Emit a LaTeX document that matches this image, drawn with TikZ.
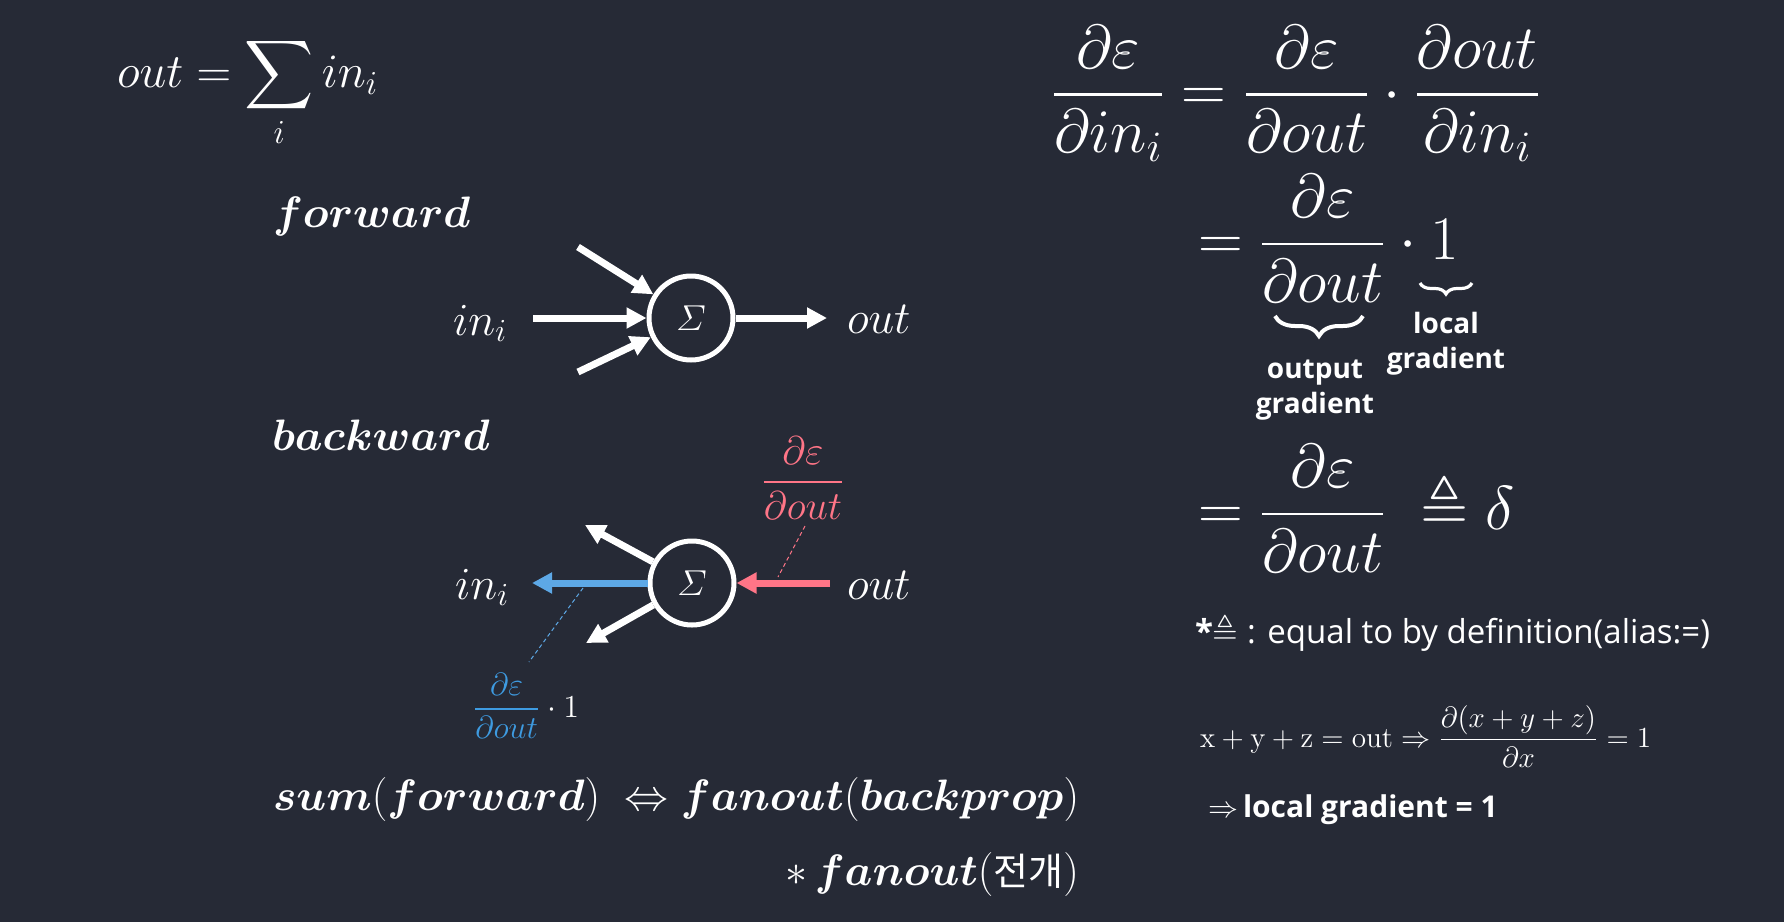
\RequirePackage{fix-cm}
\documentclass[tikz,border=0pt]{standalone}
\usepackage{amsmath,amssymb}
\usepackage{bm}
\usepackage{fontspec}
\newfontfamily\sansf{Open Sans}
\newfontfamily\krf{Noto Sans CJK KR}
\usetikzlibrary{arrows.meta,decorations.pathreplacing}
\definecolor{bg}{RGB}{38,42,54}
\definecolor{redc}{RGB}{255,117,135}
\definecolor{bluec}{RGB}{93,168,230}
\definecolor{bluet}{RGB}{62,155,225}
\newcommand\fsz[1]{\fontsize{#1}{#1}\selectfont}
\begin{document}
\begin{tikzpicture}[x=0.5pt,y=-0.5pt,
  txt/.style={text=white,inner sep=0pt,outer sep=0pt},
  arr/.style={white,line width=3.5pt,-{Triangle[length=10pt,width=10pt]}},
  sumnode/.style={circle,draw=white,line width=2.5pt,minimum size=42pt,inner sep=0pt,text=white,font=\fsz{18pt}},
  lead/.style={line width=0.5pt,dash pattern=on 2pt off 1.5pt},
  sanslbl/.style={txt,font=\sansf\bfseries\fsz{14pt}},
  brcbig/.style={white,line width=2pt,decorate,decoration={brace,mirror,amplitude=10pt}},
  brcsmall/.style={white,line width=1.6pt,decorate,decoration={brace,mirror,amplitude=5.5pt}}]
\useasboundingbox (0,0) rectangle (1784,922);
\fill[bg] (0,0) rectangle (1784,922);

% top-left formula
\node[txt,anchor=base west,font=\fsz{24pt}] (eq0) at (117,87) {$\displaystyle out=\sum_i in_i$};

% forward
\node[txt,anchor=base west,font=\fsz{22pt}] (fw) at (273,227) {$\bm{forward}$};
\node[sumnode] (s1) at (691,318) {$\varSigma$};
\node[txt,anchor=base west,font=\fsz{23pt}] (fin) at (453,335) {$in_i$};
\node[txt,anchor=base west,font=\fsz{23pt}] (fout) at (847,333) {$out$};
\coordinate (a1) at (578,247);
\coordinate (a2) at (533,318);
\coordinate (a3) at (578,372);
\coordinate (ao) at (827,318);
\draw[arr] (a1) -- (s1);
\draw[arr] (a2) -- (s1);
\draw[arr] (a3) -- (s1);
\draw[arr] (s1) -- (ao);

% backward
\node[txt,anchor=base west,font=\fsz{22pt}] (bw) at (272,450) {$\bm{backward}$};
\node[sumnode] (s2) at (692,583) {$\varSigma$};
\node[txt,anchor=base west,font=\fsz{23pt}] (bin) at (455,599) {$in_i$};
\node[txt,anchor=base west,font=\fsz{23pt}] (bout) at (847,599) {$out$};
\coordinate (b1) at (585,525);
\coordinate (b2) at (532,583);
\coordinate (b3) at (586,643);
\coordinate (bo) at (830,583);
\draw[arr] (s2) -- (b1);
\draw[arr,bluec] (s2) -- (b2);
\draw[arr] (s2) -- (b3);
\draw[arr,redc] (bo) -- (s2);

\node[txt,anchor=base,text=redc,font=\fsz{20pt}] (rf) at (803,492) {$\dfrac{\partial\varepsilon}{\partial out}$};
\node[txt,anchor=base west,font=\fsz{16pt}] (bf) at (473,717) {$\textcolor{bluet}{\dfrac{\partial\varepsilon}{\partial out}}\cdot 1$};
\coordinate (r1) at (805,526);
\coordinate (r2) at (778,577);
\draw[lead,redc] (r1) -- (r2);
\coordinate (l1) at (583,588);
\coordinate (l2) at (529,662);
\draw[lead,bluec] (l1) -- (l2);

% bottom
\node[txt,anchor=base west,font=\fsz{22pt}] (sumfan) at (273,810) {$\bm{sum}(\bm{forward})\;\Leftrightarrow\bm{fanout}(\bm{backprop})$};
\node[txt,anchor=base east,font=\fsz{22pt}] (fan) at (1079,885) {$\ast\,\bm{fanout}($\krf\fsz{19pt}전개\fsz{22pt}$)$};

% right side
\node[txt,anchor=base west,font=\fsz{31pt}] (l1eq) at (1052,110) {$\dfrac{\partial\varepsilon}{\partial in_i}=\dfrac{\partial\varepsilon}{\partial out}\cdot\dfrac{\partial out}{\partial in_i}$};
\node[txt,anchor=base west,font=\fsz{31pt}] (l2eq) at (1198,259.5) {$=\dfrac{\partial\varepsilon}{\partial out}\cdot 1$};
\node[txt,anchor=base west,font=\fsz{31pt}] (l3eq) at (1198,529.5) {$=\dfrac{\partial\varepsilon}{\partial out}\;\triangleq\delta$};

\coordinate (br1a) at (1275,316);
\coordinate (br1b) at (1363,316);
\draw[brcbig] (br1a) -- (br1b);
\coordinate (br2a) at (1420,283);
\coordinate (br2b) at (1472,283);
\draw[brcsmall] (br2a) -- (br2b);
\node[sanslbl,anchor=base] (og1) at (1315,378) {output};
\node[sanslbl,anchor=base] (og2) at (1315,413) {gradient};
\node[sanslbl,anchor=base] (lc1) at (1446,333) {local};
\node[sanslbl,anchor=base] (lc2) at (1446,368) {gradient};

\node[txt,anchor=base west,font=\sansf\fsz{16.5pt}] (def) at (1195,643) {\textbf{*}$\triangleq$ : equal to by definition(alias:=)};
\node[txt,anchor=base west,font=\fsz{14.6pt}] (ex) at (1200,747) {$\mathrm{x+y+z=out}\Rightarrow\dfrac{\partial(x+y+z)}{\partial x}=1$};
\node[txt,anchor=base west,font=\fsz{15pt}] (lgr) at (1208,817) {$\Rightarrow$\,{\sansf\bfseries local gradient = 1}};
\end{tikzpicture}
\end{document}
